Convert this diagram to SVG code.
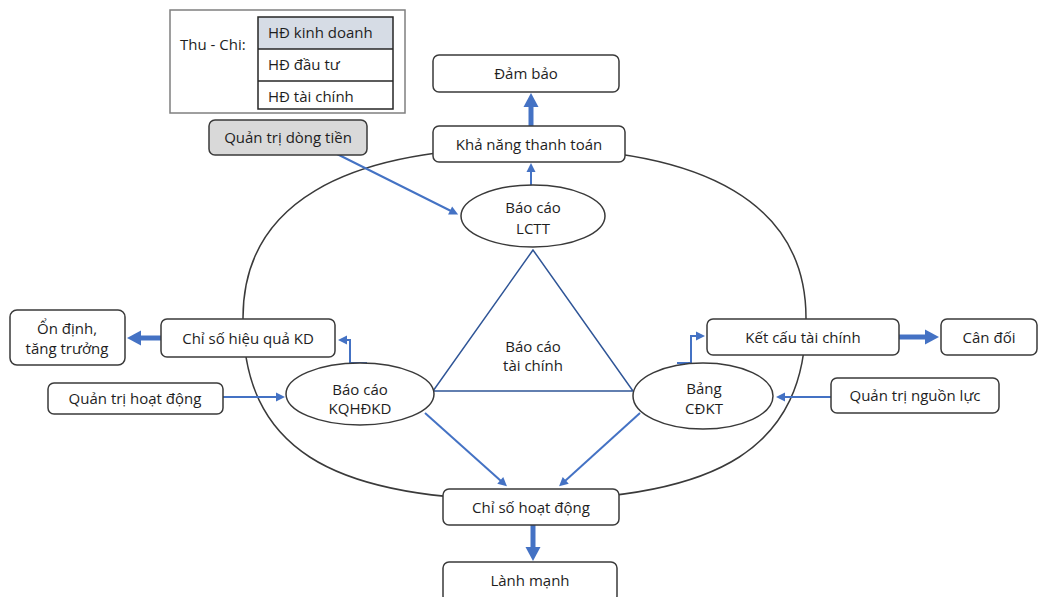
<svg xmlns="http://www.w3.org/2000/svg" width="1038" height="597" viewBox="0 0 1038 597">
<defs>
<style>
.box{fill:#fff;stroke:#3a3a3a;stroke-width:1.5}
.ell{fill:#fff;stroke:#3a3a3a;stroke-width:1.5}
.t{font-family:"Open Sans","Liberation Sans",sans-serif;font-size:15px;fill:#1e1e1e;text-anchor:middle}
.tl{font-family:"Open Sans","Liberation Sans",sans-serif;font-size:15px;fill:#1e1e1e}
.thin{fill:none;stroke:#4472c4;stroke-width:2;marker-end:url(#ah)}
.thick{fill:none;stroke:#4472c4;stroke-width:5;marker-end:url(#ahb)}
</style>
<marker id="ah" markerUnits="userSpaceOnUse" markerWidth="12" markerHeight="12" viewBox="0 -6 10 12" refX="1" refY="0" orient="auto">
<path d="M0,-4.5 L9,0 L0,4.5 z" fill="#4472c4"/>
</marker>
<marker id="ahb" markerUnits="userSpaceOnUse" markerWidth="16" markerHeight="18" viewBox="0 -9 16 18" refX="1" refY="0" orient="auto">
<path d="M0,-7.5 L14,0 L0,7.5 z" fill="#4472c4"/>
</marker>
</defs>
<rect width="1038" height="597" fill="#fff"/>

<g id="outer-ring">
<path d="M243,318 C243,205 342,148 524.5,148 C707,148 806,205 806,318 C806,446 722,500 524.5,500 C327,500 243,446 243,318 Z" fill="none" stroke="#3a3a3a" stroke-width="1.5"/>
</g>

<g id="triangle">
<polygon points="533,250 433,391 633,391" fill="#fff" stroke="#2f5597" stroke-width="1.5"/>
<text class="t" x="533" y="352">Báo cáo</text>
<text class="t" x="533" y="371">tài chính</text>
</g>

<g id="connectors">
<line class="thin" x1="531" y1="185" x2="531" y2="171"/>
<line class="thin" x1="335" y1="153" x2="451" y2="211"/>
<path class="thin" d="M367,363 H350 V340 H346"/>
<path class="thin" d="M677,363 H691 V336 H697"/>
<line class="thin" x1="223" y1="397" x2="277" y2="397"/>
<line class="thin" x1="831" y1="397" x2="784" y2="397"/>
<line class="thin" x1="425" y1="413" x2="501" y2="481"/>
<line class="thin" x1="640" y1="413" x2="565" y2="481"/>
<line class="thick" x1="531" y1="126" x2="531" y2="106"/>
<line class="thick" x1="161" y1="338" x2="140" y2="338"/>
<line class="thick" x1="899" y1="337" x2="926" y2="337"/>
<line class="thick" x1="533" y1="525" x2="533" y2="548"/>
</g>

<g id="legend">
<rect x="170" y="10" width="235" height="103" fill="#fff" stroke="#7f7f7f" stroke-width="1.5"/>
<text class="tl" x="180" y="50">Thu - Chi:</text>
<rect x="258" y="17" width="135" height="32" fill="#d6dce5"/>
<rect x="258" y="17" width="135" height="92" fill="none" stroke="#262626" stroke-width="1.5"/>
<line x1="258" y1="49" x2="393" y2="49" stroke="#262626" stroke-width="1.5"/>
<line x1="258" y1="81" x2="393" y2="81" stroke="#262626" stroke-width="1.5"/>
<text class="tl" x="268" y="38">HĐ kinh doanh</text>
<text class="tl" x="268" y="70">HĐ đầu tư</text>
<text class="tl" x="268" y="102">HĐ tài chính</text>
</g>

<g id="quan-tri-dong-tien">
<rect x="209" y="120" width="158" height="35" rx="6" fill="#d9d9d9" stroke="#3a3a3a" stroke-width="1.5"/>
<text class="t" x="288" y="143">Quản trị dòng tiền</text>
</g>

<g id="dam-bao">
<rect class="box" x="433" y="55" width="186" height="37" rx="6"/>
<text class="t" x="526" y="79">Đảm bảo</text>
</g>

<g id="kha-nang-thanh-toan">
<rect class="box" x="433" y="126" width="192" height="36" rx="6"/>
<text class="t" x="529" y="150">Khả năng thanh toán</text>
</g>

<g id="bao-cao-lctt">
<ellipse class="ell" cx="533" cy="216" rx="72" ry="31"/>
<text class="t" x="533" y="213">Báo cáo</text>
<text class="t" x="533" y="234">LCTT</text>
</g>

<g id="on-dinh">
<rect class="box" x="10" y="310" width="115" height="55" rx="7"/>
<text class="t" x="67" y="334">Ổn định,</text>
<text class="t" x="67" y="354">tăng trưởng</text>
</g>

<g id="chi-so-hieu-qua">
<rect class="box" x="161" y="319" width="174" height="38" rx="6"/>
<text class="t" x="248" y="344">Chỉ số hiệu quả KD</text>
</g>

<g id="quan-tri-hoat-dong">
<rect class="box" x="48" y="383" width="175" height="31" rx="6"/>
<text class="t" x="135" y="404">Quản trị hoạt động</text>
</g>

<g id="bao-cao-kqhdkd">
<ellipse class="ell" cx="360" cy="394" rx="74" ry="31"/>
<text class="t" x="360" y="395">Báo cáo</text>
<text class="t" x="360" y="414">KQHĐKD</text>
</g>

<g id="ket-cau-tai-chinh">
<rect class="box" x="707" y="319" width="192" height="36" rx="6"/>
<text class="t" x="803" y="343">Kết cấu tài chính</text>
</g>

<g id="can-doi">
<rect class="box" x="941" y="319" width="96" height="36" rx="6"/>
<text class="t" x="989" y="343">Cân đối</text>
</g>

<g id="bang-cdkt">
<ellipse class="ell" cx="703" cy="396" rx="70" ry="33"/>
<text class="t" x="704" y="394">Bảng</text>
<text class="t" x="704" y="414">CĐKT</text>
</g>

<g id="quan-tri-nguon-luc">
<rect class="box" x="831" y="378" width="168" height="35" rx="6"/>
<text class="t" x="915" y="401">Quản trị nguồn lực</text>
</g>

<g id="chi-so-hoat-dong">
<rect class="box" x="443" y="489" width="176" height="36" rx="6"/>
<text class="t" x="531" y="513">Chỉ số hoạt động</text>
</g>

<g id="lanh-manh">
<rect class="box" x="443" y="562" width="174" height="40" rx="6"/>
<text class="t" x="530" y="586">Lành mạnh</text>
</g>
</svg>
